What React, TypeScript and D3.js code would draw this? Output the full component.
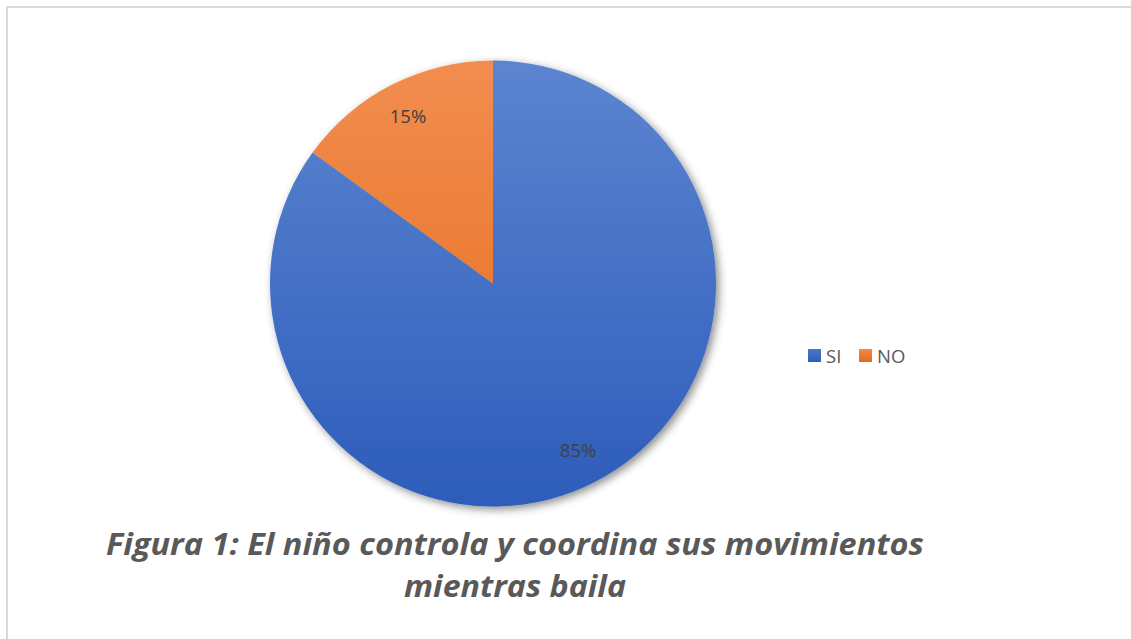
import React from "react";
import * as d3 from "d3";

const categories = ["SI", "NO"];
const values = [85, 15];
const labels = ["85%", "15%"];
const titleLines = ["Figura 1: El niño controla y coordina sus movimientos", "mientras baila"];

const W = 1131;
const H = 639;

export default function App() {
  const cx = 493;
  const cy = 283.5;
  const r = 223;
  const pie = d3.pie<number>().sort(null).value((d) => d)(values);
  const arc = d3.arc<d3.PieArcDatum<number>>().innerRadius(0).outerRadius(r);
  const labelArc = d3.arc<d3.PieArcDatum<number>>().innerRadius(r * 0.84).outerRadius(r * 0.84);
  const grads = [
    ["#5c85d0", "#2d5cbb"],
    ["#f28d50", "#e56a18"],
  ];
  const colors = ["#4472c4", "#ed7d31"];
  return (
    <div style={{ position: "absolute", left: 0, top: 0 }}>
      <svg width={W} height={H} style={{ display: "block", background: "#fff" }}>
        <defs>
          {grads.map((g, i) => (
            <linearGradient key={i} id={`g${i}`} gradientUnits="userSpaceOnUse" x1={0} y1={-r} x2={0} y2={r}>
              <stop offset="0%" stopColor={g[0]} />
              <stop offset="100%" stopColor={g[1]} />
            </linearGradient>
          ))}
          <linearGradient id="lg0" x1="0" y1="0" x2="0" y2="1">
            <stop offset="0%" stopColor="#4a78cc" />
            <stop offset="100%" stopColor="#2e5dba" />
          </linearGradient>
          <linearGradient id="lg1" x1="0" y1="0" x2="0" y2="1">
            <stop offset="0%" stopColor="#f3894a" />
            <stop offset="100%" stopColor="#e5691a" />
          </linearGradient>
          <filter id="shadow" x="-20%" y="-20%" width="140%" height="140%">
            <feDropShadow dx={3} dy={3} stdDeviation={4} floodColor="#000" floodOpacity={0.45} />
          </filter>
        </defs>
        <line x1={7} y1={7} x2={W} y2={7} stroke="#d9d9d9" strokeWidth={2} />
        <line x1={7} y1={7} x2={7} y2={H} stroke="#d9d9d9" strokeWidth={2} />
        <g transform={`translate(${cx},${cy})`}>
          <g filter="url(#shadow)">
            {pie.map((p, i) => (
              <path key={i} d={arc(p) || ""} fill={`url(#g${i})`} />
            ))}
          </g>
          {pie.map((p, i) => {
            const [x, y] = labelArc.centroid(p);
            return (
              <text key={i} x={x} y={y} dy="0.35em" textAnchor="middle" fontFamily="'Open Sans', sans-serif" fontSize={18.5} fill="#404040">
                {labels[i]}
              </text>
            );
          })}
        </g>
        <g fontFamily="'Open Sans', sans-serif" fontSize={18.5} fill="#595959">
          {categories.map((c, i) => {
            const x0 = 808 + i * 51;
            return (
              <g key={c}>
                <rect x={x0} y={349} width={13} height={13} fill={`url(#lg${i})`} />
                <text x={x0 + 18} y={362.5}>{c}</text>
              </g>
            );
          })}
        </g>
        <g fontFamily="'Open Sans', sans-serif" fontWeight="bold" fontStyle="italic" fontSize={30} fill="#595959" textAnchor="middle">
          <text x={515} y={555} textLength={818} lengthAdjust="spacingAndGlyphs">{titleLines[0]}</text>
          <text x={515} y={597} textLength={222} lengthAdjust="spacingAndGlyphs">{titleLines[1]}</text>
        </g>
      </svg>
    </div>
  );
}
